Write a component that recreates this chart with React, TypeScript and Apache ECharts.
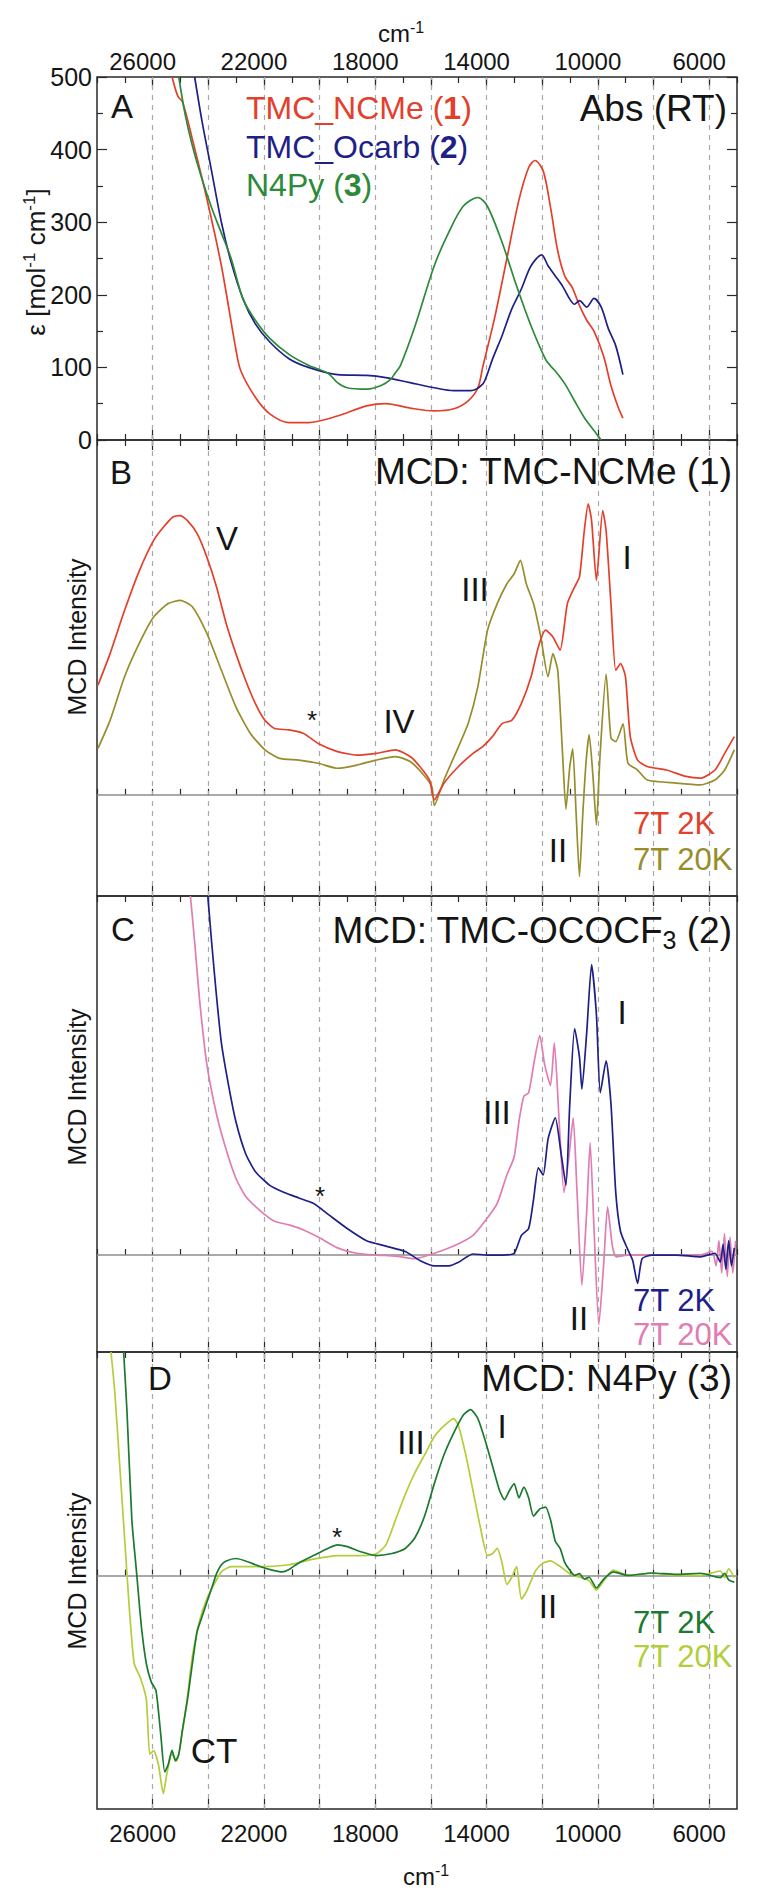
import React, { useEffect, useRef } from "react";
import * as echarts from "echarts";

// ---------- axis values ----------
const W_MIN = 5000;
const W_MAX = 28000;
const GRID_WN = [26000, 24000, 22000, 20000, 18000, 16000, 14000, 12000, 10000, 8000, 6000];
const LABEL_WN = [26000, 22000, 18000, 14000, 10000, 6000];
const ABS_RANGE = [0, 500];
const MCD_B_RANGE = [-28.5, 100];
const MCD_C_RANGE = [-27, 100];
const MCD_D_RANGE = [-104.5, 100];

// ---------- Panel A: absorption (wavenumber, epsilon) ----------
const absNCMe = [[25300,500],[25100,474],[24920,465],[24570,414],[24050,332],[23530,240],[23010,125],[22830,95],[22310,59],[21790,36],[21100,24],[20400,24],[19360,33],[18310,47],[17620,50],[16750,44],[15880,40],[15180,43],[14660,54],[14310,72],[14140,100],[13700,170],[13270,250],[12840,330],[12490,375],[12260,385],[11960,370],[11700,320],[11440,260],[11180,225],[10920,210],[10660,185],[10400,165],[10140,150],[9790,115],[9530,75],[9270,45],[9100,30]];
const absOcarb = [[24490,500],[24230,440],[23880,370],[23530,300],[23180,245],[22750,194],[22310,160],[21790,135],[21100,112],[20400,100],[19360,90],[18310,89],[17620,86],[16750,79],[15880,72],[15180,68],[14570,68],[14140,77],[13970,91],[13790,111],[13440,144],[13100,180],[12750,208],[12400,240],[12020,255],[11790,240],[11530,226],[11270,212],[11010,194],[10840,187],[10660,192],[10400,183],[10140,195],[9880,183],[9620,153],[9360,130],[9100,90]];
const absN4Py = [[25060,500],[24840,450],[24570,405],[24230,360],[23880,320],[23530,285],[23180,250],[22750,194],[22310,165],[21790,140],[21100,118],[20400,103],[19700,92],[19360,79],[19010,72],[18310,70],[17790,75],[17440,84],[17270,93],[17100,102],[16570,157],[15880,240],[15360,286],[14840,322],[14310,334],[13970,322],[13440,272],[12920,212],[12400,157],[11880,111],[11700,102],[11530,95],[11180,77],[10840,54],[10490,31],[10140,13],[9880,0]];

// ---------- Panel B: MCD TMC-NCMe ----------
const mcdB2K = [[27965,30.9],[27530,39.8],[27009,52],[26487,63],[25965,71.7],[25617,75.4],[25270,78.3],[25009,78.7],[24748,77.3],[24400,73.6],[24052,67],[23704,58.6],[23357,48.3],[23009,39.8],[22661,32.3],[22313,25.8],[21965,21],[21617,18.7],[21096,18.3],[20574,17.3],[20052,14.5],[19357,12.2],[18661,11.2],[17965,11.7],[17270,12.7],[16748,10.8],[16400,8],[16052,4.2],[15878,-1.4],[15530,3.3],[15009,8],[14487,11.7],[14139,13.6],[13791,16.4],[13443,20.1],[13096,21],[12748,25.8],[12400,33.3],[12139,41.7],[11878,46.4],[11617,44.5],[11357,40.8],[11096,53.9],[10835,58.6],[10661,61.4],[10487,74.5],[10348,82],[10226,77.3],[10052,60.4],[9826,80.1],[9704,74.5],[9530,53.9],[9357,35.1],[9183,37],[9009,33.3],[8835,16.4],[8574,9.8],[8226,8],[7530,7],[6835,5.2],[6313,4.7],[5791,7],[5443,11.7],[5096,16.4]];
const mcdB20K = [[27965,13.1],[27530,21],[27009,33.3],[26487,42.6],[25965,50.1],[25443,53.9],[25009,54.8],[24574,53],[24052,45.5],[23530,35.1],[23009,24.8],[22487,17.3],[21965,12.7],[21443,10.3],[20748,9.8],[20052,8.9],[19357,7.5],[18661,8.4],[17965,9.8],[17270,10.8],[16748,9.4],[16313,6.1],[15965,2.3],[15878,-3],[15530,4.2],[15009,13.6],[14661,20.1],[14313,30.5],[13965,46.4],[13617,53.9],[13270,59.5],[13009,62.3],[12783,66.1],[12574,59.5],[12313,53.9],[12052,44.5],[11791,33.3],[11617,39.8],[11443,35.1],[11270,11.7],[11148,-4],[11009,8],[10904,13],[10783,-5],[10661,-23],[10539,-5],[10417,10],[10313,17],[10174,5],[10052,-8.5],[9930,10],[9704,34],[9530,16],[9357,15],[9096,20],[8922,9],[8574,7],[8226,4.2],[7183,3.3],[6313,2.8],[5791,4.2],[5443,7],[5096,12.7]];

// ---------- Panel C: MCD TMC-OCOCF3 ----------
const mcdC2K = [[24017,100],[23878,86.9],[23704,72],[23530,59.1],[23270,47.2],[23009,37.2],[22661,28.3],[22313,23.3],[21791,19.4],[21270,17.4],[20748,15.9],[20226,14.4],[19704,11.4],[19009,7.4],[18313,4],[17617,2.5],[16922,1],[16400,-1.5],[15878,-3],[15357,-3],[15009,-2],[14487,0.3],[13965,0],[13443,0],[13009,0.5],[12748,5.5],[12487,7.4],[12313,15.4],[12139,24.3],[11965,22.3],[11791,32.3],[11530,38.2],[11322,28.3],[11148,19.4],[11009,42.2],[10835,63.1],[10661,55.1],[10574,46.2],[10400,62.1],[10226,80.9],[10052,67],[9913,45.2],[9704,54.1],[9530,42.2],[9357,17.4],[9183,6.5],[8922,1.5],[8748,-1.5],[8574,-7.9],[8409,-1],[8052,0],[7183,0],[6313,-0.5],[5791,0.5],[5600,-2],[5500,3],[5400,-4],[5300,4],[5200,-3],[5096,2]];
const mcdC20K = [[24643,100],[24487,86.9],[24313,71],[24052,53.1],[23704,39.2],[23357,29.3],[23009,21.4],[22661,16.4],[22139,12.4],[21617,9.4],[21096,8.4],[20574,7],[20052,5],[19357,2],[18661,0.5],[17965,0],[17270,-0.3],[16574,-1],[15878,0.5],[15183,2.5],[14487,5.5],[13965,10.4],[13617,14.4],[13270,22.3],[13009,27.3],[12835,37.2],[12661,44.2],[12487,45.2],[12261,55.1],[12087,61.1],[11913,53.1],[11704,47.2],[11565,59.1],[11391,37.2],[11217,17.4],[11043,27.3],[10887,38.2],[10748,17.4],[10574,-8.4],[10400,12.4],[10278,31.3],[10139,7.4],[9965,-19.4],[9791,-2.5],[9652,13.4],[9478,2.5],[9339,-0.5],[8922,0],[8052,0],[7183,0],[6313,0],[5900,1],[5750,-3],[5650,4],[5550,-5],[5450,6],[5350,-6],[5250,5],[5150,-5],[5050,4]];

// ---------- Panel D: MCD N4Py ----------
const mcdD2K = [[27043,100],[26922,73.4],[26748,25],[26574,0.8],[26400,-23.4],[26226,-39.5],[26052,-47.6],[25878,-51.6],[25704,-71.8],[25565,-87.9],[25443,-84.7],[25304,-78.2],[25183,-83],[25061,-80],[24922,-68.5],[24748,-55.6],[24574,-39.5],[24400,-25],[24226,-18.5],[24052,-12],[23878,-5.6],[23704,0.8],[23530,4.8],[23357,6.5],[23009,7.6],[22661,6.5],[22139,4],[21704,2.4],[21357,1.6],[21096,2.7],[20748,5.6],[20226,8.9],[19704,12.1],[19357,13.7],[19009,12.9],[18487,10.5],[17965,8.9],[17443,9.7],[16922,12.1],[16574,16.9],[16226,26.6],[15878,41.1],[15530,54],[15183,63.7],[14835,71.8],[14574,74.2],[14313,70.2],[14052,60.5],[13791,49.2],[13530,37.9],[13357,33.9],[13183,37.9],[13009,41.1],[12835,34.7],[12661,39.5],[12487,34.7],[12313,26.6],[12087,29.8],[11878,30.6],[11704,25],[11530,15.3],[11357,12.1],[11183,5.6],[11009,2.4],[10835,0],[10661,0.8],[10487,-1.6],[10313,-0.8],[10052,-5.6],[9791,-1.6],[9443,1.6],[8922,0],[8052,1.1],[7183,0.5],[6313,1],[5600,-1],[5443,1],[5300,-2],[5096,-3]];
const mcdD20K = [[27496,100],[27357,81.5],[27183,49.2],[27009,16.9],[26835,-15.3],[26661,-39.5],[26435,-46],[26226,-55.6],[26104,-80],[25965,-78.4],[25791,-84.7],[25617,-97.6],[25478,-87.9],[25304,-80],[25130,-83],[24957,-71.8],[24748,-54],[24574,-36.3],[24313,-20.2],[24052,-10.5],[23791,-4],[23530,1.6],[23183,4],[22661,4],[21965,4],[21096,4.8],[20226,7.3],[19357,8.9],[18487,8.9],[17965,9.7],[17617,13.7],[17270,25],[16922,36.3],[16574,46],[16226,54],[15878,62.1],[15530,66.9],[15183,70.2],[15009,66.9],[14748,54],[14487,37.9],[14226,21.8],[13965,8.9],[13791,9.7],[13617,12.1],[13443,5.6],[13270,-4],[13096,-0.8],[12922,4],[12748,-10.5],[12574,-7.3],[12400,-2.4],[12226,2.4],[11965,5.6],[11704,6.5],[11357,4],[11009,0.8],[10661,-0.8],[10313,-2.4],[10052,-6.5],[9791,-2.4],[9443,2.4],[8922,0],[8052,1],[7183,0],[6313,0],[5600,2],[5443,-1],[5300,3],[5096,-1]];

const FONT = "Liberation Sans, Arial, sans-serif";
const RED = "#e3402c";
const NAVY = "#1f1f88";
const GREEN = "#2c8a3a";
const OLIVE = "#978d2c";
const PINK = "#e07db2";
const DKGREEN = "#1b7a2f";
const LTGREEN = "#b3cd3b";
const INK = "#151515";

const GRIDS = [
  { top: 77, height: 363 },
  { top: 440, height: 456 },
  { top: 896, height: 456 },
  { top: 1352, height: 457 },
];

function buildOption() {
  const grid = GRIDS.map((g) => ({
    left: 97,
    right: 21,
    top: g.top,
    height: g.height,
    show: true,
    borderColor: "#2a2a2a",
    borderWidth: 1.5,
    backgroundColor: "transparent",
  }));

  const xAxis: any[] = [];
  GRIDS.forEach((_, gi) => {
    ["bottom", "top"].forEach((pos) => {
      const showLabel = (gi === 0 && pos === "top") || (gi === 3 && pos === "bottom");
      xAxis.push({
        type: "value",
        gridIndex: gi,
        position: pos,
        min: W_MIN,
        max: W_MAX,
        interval: 1000,
        inverse: true,
        axisLine: { show: false },
        axisTick: { show: true, inside: true, length: 6, lineStyle: { color: "#2a2a2a", width: 1.2 } },
        splitLine: { show: false },
        axisLabel: showLabel
          ? {
              show: true,
              customValues: LABEL_WN,
              formatter: (v: number) => String(v),
              fontSize: 24,
              fontFamily: FONT,
              color: INK,
              padding: [0, 20, 0, 0],
              margin: pos === "top" ? 4 : 12,
            }
          : { show: false },
      });
      xAxis.push({
        type: "value",
        gridIndex: gi,
        position: pos,
        min: W_MIN,
        max: W_MAX,
        inverse: true,
        axisLine: { show: false },
        axisTick: {
          show: true,
          inside: true,
          length: 10,
          customValues: GRID_WN,
          lineStyle: { color: "#2a2a2a", width: 1.2 },
        },
        splitLine: { show: false },
        axisLabel: { show: false },
      });
    });
  });

  const yAxis: any[] = [
    {
      type: "value",
      gridIndex: 0,
      position: "left",
      min: ABS_RANGE[0],
      max: ABS_RANGE[1],
      interval: 100,
      axisLine: { show: false },
      axisTick: { show: true, inside: true, length: 10, lineStyle: { color: "#2a2a2a", width: 1.2 } },
      minorTick: { show: true, splitNumber: 2, length: 6, lineStyle: { color: "#2a2a2a", width: 1.2 } },
      splitLine: { show: false },
      axisLabel: { fontSize: 25, fontFamily: FONT, color: INK, margin: 5 },
    },
    {
      type: "value",
      gridIndex: 0,
      position: "right",
      min: ABS_RANGE[0],
      max: ABS_RANGE[1],
      interval: 100,
      axisLine: { show: false },
      axisTick: { show: true, inside: true, length: 10, lineStyle: { color: "#2a2a2a", width: 1.2 } },
      minorTick: { show: true, splitNumber: 2, length: 6, lineStyle: { color: "#2a2a2a", width: 1.2 } },
      splitLine: { show: false },
      axisLabel: { show: false },
    },
  ];
  [MCD_B_RANGE, MCD_C_RANGE, MCD_D_RANGE].forEach((r, i) => {
    yAxis.push({
      type: "value",
      gridIndex: i + 1,
      min: r[0],
      max: r[1],
      axisLine: { show: false },
      axisTick: { show: false },
      axisLabel: { show: false },
      splitLine: { show: false },
    });
  });
  const yIdx = [0, 2, 3, 4];

  const series: any[] = [];
  GRIDS.forEach((_, gi) => {
    series.push({
      type: "line",
      data: [],
      xAxisIndex: gi * 4,
      yAxisIndex: yIdx[gi],
      silent: true,
      z: 1,
      markLine: {
        silent: true,
        symbol: ["none", "none"],
        label: { show: false },
        lineStyle: { color: "#a9a9a9", type: [5, 5], width: 1.2 },
        data: GRID_WN.map((v) => ({ xAxis: v })),
      },
    });
    if (gi > 0) {
      series.push({
        type: "line",
        data: [],
        xAxisIndex: gi * 4,
        yAxisIndex: yIdx[gi],
        silent: true,
        z: 2,
        markLine: {
          silent: true,
          symbol: ["none", "none"],
          label: { show: false },
          lineStyle: { color: "#8c8c8c", type: "solid", width: 1.6 },
          data: [{ yAxis: 0 }],
        },
      });
    }
  });

  const spec = (name: string, data: number[][], color: string, gi: number, smooth: number) => ({
    type: "line",
    name,
    data,
    xAxisIndex: gi * 4,
    yAxisIndex: yIdx[gi],
    showSymbol: false,
    symbol: "none",
    silent: true,
    clip: true,
    smooth,
    z: 5,
    lineStyle: { color, width: 1.7 },
    itemStyle: { color },
  });

  series.push(spec("TMC_NCMe", absNCMe, RED, 0, 0.3));
  series.push(spec("TMC_Ocarb", absOcarb, NAVY, 0, 0.3));
  series.push(spec("N4Py", absN4Py, GREEN, 0, 0.3));
  series.push(spec("B 20K", mcdB20K, OLIVE, 1, 0.2));
  series.push(spec("B 2K", mcdB2K, RED, 1, 0.2));
  series.push(spec("C 20K", mcdC20K, PINK, 2, 0.2));
  series.push(spec("C 2K", mcdC2K, NAVY, 2, 0.2));
  series.push(spec("D 20K", mcdD20K, LTGREEN, 3, 0.2));
  series.push(spec("D 2K", mcdD2K, DKGREEN, 3, 0.2));

  const txt = (x: number, y: number, text: string, size: number, opts: any = {}) => ({
    type: "text",
    x,
    y,
    silent: true,
    z: 20,
    rotation: opts.rot || 0,
    style: {
      text,
      fill: opts.color || INK,
      fontSize: size,
      fontFamily: FONT,
      fontWeight: opts.bold ? "bold" : "normal",
      align: opts.align || "center",
      textAlign: opts.align || "center",
      verticalAlign: "middle",
      textVerticalAlign: "middle",
      rich: opts.rich,
    },
  });

  const legRich = (color: string) => ({
    b: { fontSize: 32, fontFamily: FONT, fontWeight: "bold", fill: color, color },
  });
  const supRich = (size: number, sup: number) => ({
    n: { fontSize: size, fontFamily: FONT, lineHeight: size + 4 },
    s: { fontSize: sup, fontFamily: FONT, lineHeight: sup, verticalAlign: "top" },
  });

  const graphic: any[] = [
    // axis titles
    txt(401, 33, "{n|cm}{s|-1}", 24, { rich: supRich(24, 16) }),
    txt(426, 1876, "{n|cm}{s|-1}", 24, { rich: supRich(24, 16) }),
    txt(36, 262, "{n|ε [mol}{s|-1}{n| cm}{s|-1}{n|]}", 26, { rot: Math.PI / 2, rich: supRich(26, 17) }),
    txt(77, 637, "MCD Intensity", 25, { rot: Math.PI / 2 }),
    txt(77, 1087, "MCD Intensity", 25, { rot: Math.PI / 2 }),
    txt(77, 1571, "MCD Intensity", 25, { rot: Math.PI / 2 }),
    // Panel A
    txt(122, 106, "A", 33),
    txt(246, 108, "TMC_NCMe ({b|1})", 32, { align: "left", color: RED, rich: legRich(RED) }),
    txt(246, 147, "TMC_Ocarb ({b|2})", 32, { align: "left", color: NAVY, rich: legRich(NAVY) }),
    txt(246, 185, "N4Py ({b|3})", 32, { align: "left", color: GREEN, rich: legRich(GREEN) }),
    txt(727, 108, "Abs (RT)", 37, { align: "right" }),
    // Panel B
    txt(121, 472, "B", 33),
    txt(732, 471, "MCD: TMC-NCMe (1)", 37, { align: "right" }),
    txt(227, 538, "V", 33),
    txt(312, 720, "*", 26),
    txt(399, 721, "IV", 33),
    txt(475, 589, "III", 33),
    txt(627, 557, "I", 33),
    txt(558, 850, "II", 33),
    txt(633, 823, "7T 2K", 31, { align: "left", color: RED }),
    txt(633, 859, "7T 20K", 31, { align: "left", color: OLIVE }),
    // Panel C
    txt(123, 929, "C", 33),
    txt(732, 930, "{n|MCD: TMC-OCOCF}{u|3}{n| (2)}", 37, {
      align: "right",
      rich: {
        n: { fontSize: 37, fontFamily: FONT, lineHeight: 44 },
        u: { fontSize: 25, fontFamily: FONT, lineHeight: 24, verticalAlign: "bottom" },
      },
    }),
    txt(320, 1196, "*", 26),
    txt(497, 1112, "III", 33),
    txt(622, 1012, "I", 33),
    txt(579, 1318, "II", 33),
    txt(633, 1300, "7T 2K", 31, { align: "left", color: NAVY }),
    txt(633, 1334, "7T 20K", 31, { align: "left", color: PINK }),
    // Panel D
    txt(160, 1378, "D", 33),
    txt(732, 1378, "MCD: N4Py (3)", 37, { align: "right" }),
    txt(337, 1537, "*", 26),
    txt(411, 1442, "III", 33),
    txt(502, 1426, "I", 33),
    txt(548, 1606, "II", 33),
    txt(214, 1750, "CT", 35),
    txt(633, 1622, "7T 2K", 31, { align: "left", color: DKGREEN }),
    txt(633, 1656, "7T 20K", 31, { align: "left", color: LTGREEN }),
  ];

  return {
    animation: false,
    backgroundColor: "#ffffff",
    grid,
    xAxis,
    yAxis,
    series,
    graphic,
  };
}

export default function App() {
  const ref = useRef<HTMLDivElement>(null);
  useEffect(() => {
    if (!ref.current) return;
    const chart = echarts.init(ref.current, undefined, { renderer: "svg" });
    chart.setOption(buildOption() as any);
    return () => chart.dispose();
  }, []);
  return (
    <div
      ref={ref}
      style={{ position: "absolute", left: 0, top: 0, width: 758, height: 1902, background: "#fff" }}
    />
  );
}
